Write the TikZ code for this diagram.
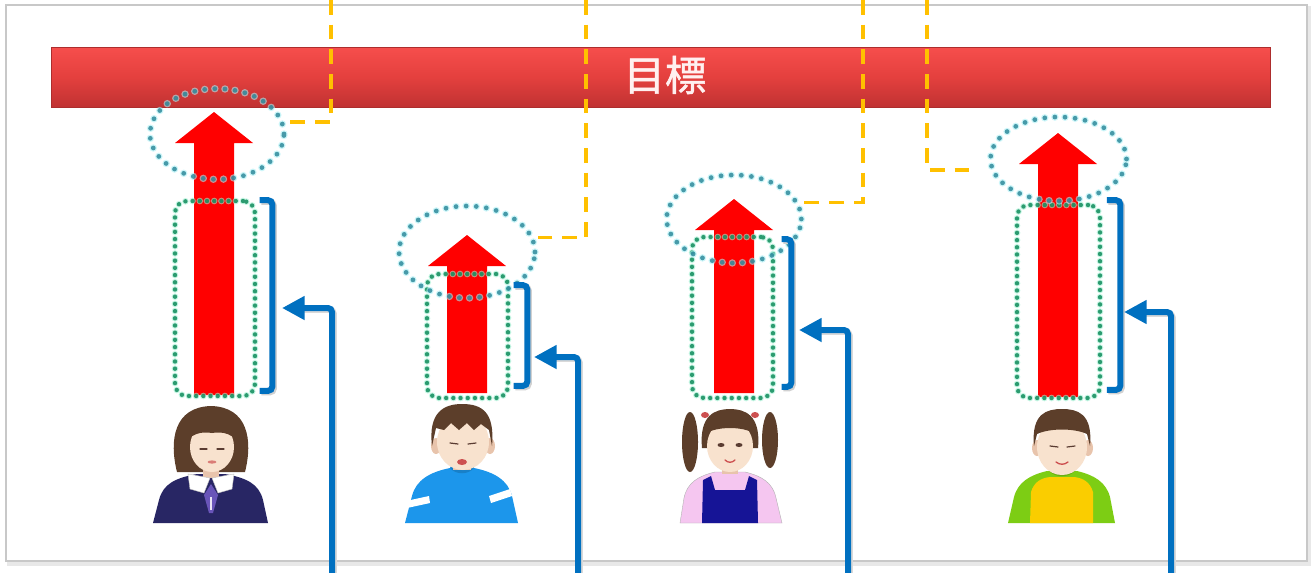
\documentclass[tikz,border=0pt]{standalone}
\usepackage{fontspec}
\newfontfamily\cjk{Noto Sans CJK JP}[FakeBold=1.2]
\usetikzlibrary{arrows.meta,shapes.geometric,fit}

% palette
\definecolor{goalred}{RGB}{255,0,0}
\definecolor{bannertop}{RGB}{246,78,76}
\definecolor{bannermid}{RGB}{228,64,62}
\definecolor{bannerbot}{RGB}{192,50,50}
\definecolor{ringteal}{RGB}{38,132,150}
\definecolor{ringglow}{RGB}{170,240,245}
\definecolor{spangreen}{RGB}{18,140,92}
\definecolor{spanglow}{RGB}{160,240,210}
\definecolor{feedblue}{RGB}{0,112,192}
\definecolor{guidegold}{RGB}{255,192,0}
\definecolor{framegray}{RGB}{200,200,200}
\definecolor{skin}{RGB}{248,226,206}
\definecolor{skinshade}{RGB}{232,196,172}
\definecolor{hairbrown}{RGB}{92,62,42}
\definecolor{uniformnavy}{RGB}{40,38,100}
\definecolor{tiepurple}{RGB}{105,85,185}
\definecolor{boyblue}{RGB}{28,150,235}
\definecolor{pinkshirt}{RGB}{245,198,240}
\definecolor{pinafore}{RGB}{22,20,150}
\definecolor{shirtgreen}{RGB}{125,205,20}
\definecolor{shirtyellow}{RGB}{250,205,0}
\definecolor{lipred}{RGB}{205,80,80}
\definecolor{eyedark}{RGB}{90,60,50}

\tikzset{
  banner/.style={minimum width=914pt, minimum height=45pt, inner sep=0pt,
    top color=bannertop, bottom color=bannerbot, middle color=bannermid,
    draw=bannerbot!90!black, line width=0.4pt},
  goaltext/.style={text=white!94!red, font=\cjk\fontsize{31}{31}\selectfont, inner sep=0pt},
  ringdots/.style={ellipse, inner sep=0pt, draw=ringteal, draw opacity=0.8,
    line width=3.6pt, dash pattern=on 0pt off 7.6pt, line cap=round,
    preaction={draw=ringglow, draw opacity=0.6, line width=5.6pt,
      dash pattern=on 0pt off 7.6pt, line cap=round}},
  spandots/.style={rectangle, rounded corners=9pt, inner sep=0pt, draw=spangreen,
    draw opacity=0.85, line width=3.3pt, dash pattern=on 0pt off 5.4pt, line cap=round,
    preaction={draw=spanglow, draw opacity=0.6, line width=5pt,
      dash pattern=on 0pt off 5.4pt, line cap=round}},
  spanbox/.style={inner sep=0pt},
  bracketline/.style={draw=feedblue, line width=4.5pt, rounded corners=3pt,
    preaction={draw=black!18, line width=4.5pt, transform canvas={shift={(1.2pt,-1.2pt)}}}},
  feed/.style={draw=feedblue, line width=4.5pt, rounded corners=3pt,
    -{Triangle[length=17pt,width=17pt]}},
  feedshadow/.style={draw=black!15, line width=4.5pt, rounded corners=3pt},
  guide/.style={draw=guidegold, line width=2.6pt, dash pattern=on 11pt off 7.5pt},
  eyeline/.style={draw=eyedark, line width=0.9pt, line cap=round},
}

% upward goal arrow: centre x, tip y, foot y
\newcommand{\goalarrow}[3]{%
  \fill[goalred] (#1-20,#3) -- (#1-20,#2+31) -- (#1-39,#2+31) -- (#1,#2)
    -- (#1+39,#2+31) -- (#1+20,#2+31) -- (#1+20,#3) -- cycle;}

\begin{document}
\begin{tikzpicture}[x=0.75pt,y=-0.75pt]
\useasboundingbox (0,0) rectangle (1312,572);
\fill[white] (0,0) rectangle (1312,572);

% panel frame with a soft shadow
\draw[black!9, line width=3pt] (9,8) rectangle (1309,564);
\draw[framegray, line width=1.6pt, fill=white] (6,5) rectangle (1307,561);

% goal banner
\node[banner] (goal) at (660.5,77) {};
\node[goaltext] (goaltxt) at (665,75) {目標};

% growth arrows
\goalarrow{214}{112}{395}
\goalarrow{467}{235}{393}
\goalarrow{734}{199}{393}
\goalarrow{1058}{133}{397}

% dotted spans along each shaft
\node[spandots, fit={(175,201) (255,396)}] (r1) {};
\node[spandots, fit={(427,274) (508,398)}] (r2) {};
\node[spandots, fit={(692,237) (773,398)}] (r3) {};
\node[spandots, fit={(1017,205) (1100,398)}] (r4) {};

% dotted rings round each arrow head
\node[ringdots, minimum width=100.5pt, minimum height=68pt] (e1) at (217,134) {};
\node[ringdots, minimum width=102pt, minimum height=69pt] (e2) at (467,252) {};
\node[ringdots, minimum width=101pt, minimum height=66pt] (e3) at (734,219) {};
\node[ringdots, minimum width=102pt, minimum height=63pt] (e4) at (1058.5,159) {};

% dashed leaders coming down from above
\coordinate (o1) at (331,0);
\coordinate (o2) at (586,0);
\coordinate (o3) at (863,0);
\coordinate (o4) at (927,0);
\draw[guide] (o1) |- (e1.10);
\draw[guide] (o2) |- (e2.12);
\draw[guide] (o3) |- (e3.14);
\draw[guide, shorten >=10pt] (o4) |- (e4.189);

% brackets beside each span
\node[spanbox, fit={(260,200.5) (272,390.5)}] (br1) {};
\node[spanbox, fit={(514,285.5) (527,385.5)}] (br2) {};
\node[spanbox, fit={(782,239.5) (791,386.5)}] (br3) {};
\node[spanbox, fit={(1107,200.5) (1120,389.5)}] (br4) {};
\foreach \b in {br1,br2,br3,br4}
  \draw[bracketline] (\b.north west) -- (\b.north east) -- (\b.south east) -- (\b.south west);

% feedback arrows rising from below
\coordinate (s1) at (332,575);
\coordinate (s2) at (578,575);
\coordinate (s3) at (848,575);
\coordinate (s4) at (1171,575);
\coordinate (t1) at (282,308);
\coordinate (t2) at (534,357);
\coordinate (t3) at (799,330);
\coordinate (t4) at (1124,312);
\foreach \i in {1,2,3,4}
  \draw[feedshadow, transform canvas={shift={(1.4pt,-1.4pt)}}] (s\i) |- ([xshift=12pt]t\i);
\foreach \i in {1,2,3,4}
  \draw[feed] (s\i) |- (t\i);

% ---- child 1: bobbed hair, navy uniform ----
\begin{scope}[shift={(211,0)}]
  \fill[hairbrown] (-34,472) .. controls (-42,440) and (-37,407) .. (0,406)
    .. controls (37,407) and (42,440) .. (34,472) -- cycle;
  \fill[uniformnavy] (-58,523) -- (-52,500) .. controls (-48,484) and (-36,478) .. (-14,474)
    -- (14,474) .. controls (36,478) and (48,484) .. (52,500) -- (57,523) -- cycle;
  \fill[skinshade] (-8,460) rectangle (8,478);
  \fill[skin] (1,447) ellipse [x radius=22, y radius=25];
  \fill[hairbrown] (-27,446) .. controls (-29,420) and (-16,411) .. (1,411)
    .. controls (18,411) and (30,420) .. (28,446) .. controls (24,434) and (12,431) .. (1,433)
    .. controls (-10,431) and (-22,434) .. cycle;
  \fill[white, draw=black!25, line width=0.3pt] (-23,474) -- (-1,478) -- (-7,493) -- (-21,489) -- cycle;
  \fill[white, draw=black!25, line width=0.3pt] (23,474) -- (1,478) -- (7,493) -- (21,489) -- cycle;
  \fill[tiepurple] (0,484) -- (-7,495) -- (-2,513) -- (2,513) -- (7,495) -- cycle;
  \fill[white!85!tiepurple] (-1,497) rectangle (1,510);
  \draw[eyeline] (-11,449) -- (-4,449) (6,449) -- (13,449);
  \fill[lipred!70!skin] (1,462) ellipse [x radius=4.5, y radius=1.6];
\end{scope}

% ---- child 2: boy in a blue jumper ----
\begin{scope}[shift={(462,0)}]
  \fill[boyblue] (-57,523) -- (-50,496) .. controls (-46,480) and (-32,472) .. (-12,468)
    -- (12,468) .. controls (32,472) and (46,480) .. (50,496) -- (56,523) -- cycle;
  \fill[boyblue!85!black] (-12,468) .. controls (-6,475) and (6,475) .. (12,468) -- (10,464) -- (-10,464) -- cycle;
  \fill[skinshade] (-9,456) rectangle (9,470);
  \fill[white] (-56,501) -- (-33,496) -- (-32,503) -- (-55,508) -- cycle;
  \fill[white] (27,496) -- (48,489) -- (50,496) -- (29,503) -- cycle;
  \fill[skinshade] (-26,446) ellipse [x radius=5, y radius=8];
  \fill[skinshade] (28,446) ellipse [x radius=5, y radius=8];
  \fill[skin] (1,442) ellipse [x radius=26, y radius=28];
  \fill[hairbrown] (-30,446) .. controls (-34,412) and (-18,404) .. (0,404)
    .. controls (20,404) and (33,412) .. (30,446) -- (27,430) -- (19,424) -- (12,430) -- (5,423)
    -- (-3,430) -- (-11,423) -- (-18,430) -- (-26,428) -- cycle;
  \draw[eyeline] (-12,443) -- (-4,444) (6,444) -- (14,443);
  \fill[lipred] (0,462) ellipse [x radius=5, y radius=3];
\end{scope}

% ---- child 3: girl with pigtails ----
\begin{scope}[shift={(730,0)}]
  \fill[hairbrown] (-40,442) ellipse [x radius=8, y radius=30];
  \fill[hairbrown] (40,440) ellipse [x radius=8, y radius=28];
  \fill[pinkshirt, draw=black!30, line width=0.3pt] (-50,523) -- (-46,498) .. controls (-43,483) and (-32,476) .. (-15,472)
    -- (15,472) .. controls (32,476) and (43,483) .. (46,498) -- (52,523) -- cycle;
  \fill[skinshade] (-8,460) rectangle (8,474);
  \fill[pinafore] (-28,523) -- (-27,480) -- (-19,476) -- (-15,490) -- (15,490) -- (19,476)
    -- (27,480) -- (28,523) -- cycle;
  \fill[hairbrown] (-28,448) .. controls (-31,415) and (-15,409) .. (0,409)
    .. controls (15,409) and (31,415) .. (28,448) -- cycle;
  \fill[skin] (0,446) ellipse [x radius=23, y radius=26];
  \fill[hairbrown] (-25,434) .. controls (-23,417) and (-10,413) .. (0,413)
    .. controls (10,413) and (23,417) .. (25,434) .. controls (14,426) and (-14,426) .. cycle;
  \fill[lipred] (-25,415) ellipse [x radius=4, y radius=3];
  \fill[lipred] (25,415) ellipse [x radius=4, y radius=3];
  \fill[eyedark] (-9,445) ellipse [x radius=3.5, y radius=2];
  \fill[eyedark] (9,445) ellipse [x radius=3.5, y radius=2];
  \draw[lipred, line width=1pt, line cap=round] (-5,460) .. controls (-2,463) and (2,463) .. (5,460);
\end{scope}

% ---- child 4: boy in a green and yellow top ----
\begin{scope}[shift={(1062,0)}]
  \fill[shirtgreen] (-54,523) -- (-48,497) .. controls (-44,482) and (-32,475) .. (-15,471)
    -- (15,471) .. controls (32,475) and (44,482) .. (48,497) -- (53,523) -- cycle;
  \fill[shirtyellow] (-32,523) -- (-31,492) .. controls (-28,482) and (-21,478) .. (-12,477)
    -- (12,477) .. controls (21,478) and (28,482) .. (31,492) -- (31,523) -- cycle;
  \fill[skinshade] (-8,460) rectangle (8,474);
  \fill[shirtgreen!85!black] (-13,471) .. controls (-6,478) and (6,478) .. (13,471) -- (11,468) -- (-11,468) -- cycle;
  \fill[skinshade] (-25,448) ellipse [x radius=5, y radius=8];
  \fill[skinshade] (26,448) ellipse [x radius=5, y radius=8];
  \fill[skin] (0,447) ellipse [x radius=25, y radius=28];
  \fill[hairbrown] (-28,446) .. controls (-31,413) and (-15,409) .. (0,409)
    .. controls (15,409) and (31,413) .. (28,446) -- (25,434) .. controls (12,428) and (-12,428) .. (-25,434) -- cycle;
  \draw[eyeline] (-12,446) -- (-4,447) (5,447) -- (13,446);
  \draw[lipred, line width=1pt, line cap=round] (-6,462) .. controls (-2,465) and (2,465) .. (6,462);
\end{scope}
\end{tikzpicture}
\end{document}
